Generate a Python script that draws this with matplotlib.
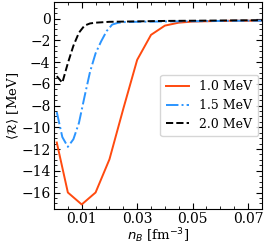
import matplotlib
matplotlib.use("Agg")
import matplotlib.pyplot as plt
from matplotlib.ticker import MultipleLocator

plt.rcParams["font.family"] = "DejaVu Serif"
plt.rcParams["mathtext.fontset"] = "dejavusans"

# ---------- data ----------
x_10 = [0.001, 0.005, 0.010, 0.015, 0.020, 0.025, 0.030, 0.035, 0.040,
        0.045, 0.050, 0.055, 0.060, 0.065, 0.070, 0.075]
y_10 = [-11.4, -16.0, -17.1, -16.0, -12.95, -8.3, -3.8, -1.5, -0.65,
        -0.38, -0.28, -0.25, -0.22, -0.2, -0.2, -0.2]

x_15 = [0.001, 0.003, 0.005, 0.007, 0.009, 0.011, 0.013, 0.015, 0.017,
        0.019, 0.021, 0.023, 0.025, 0.030, 0.040, 0.050, 0.060, 0.070, 0.075]
y_15 = [-8.6, -10.9, -11.8, -11.1, -9.6, -7.2, -4.9, -3.2, -2.1,
        -1.15, -0.55, -0.4, -0.33, -0.3, -0.27, -0.25, -0.22, -0.2, -0.2]

x_20 = [0.001, 0.003, 0.005, 0.007, 0.009, 0.011, 0.013, 0.015, 0.020,
        0.030, 0.040, 0.050, 0.060, 0.070, 0.075]
y_20 = [-5.3, -5.9, -4.1, -2.5, -1.3, -0.65, -0.45, -0.38, -0.3,
        -0.26, -0.22, -0.2, -0.18, -0.16, -0.15]

labels = ["1.0 MeV", "1.5 MeV", "2.0 MeV"]
colors = ["#ff4a0f", "#2b95ff", "black"]

# ---------- plot ----------
fig = plt.figure(figsize=(2.70, 2.48), dpi=100)
ax = fig.add_axes([0.2, 0.158, 0.77, 0.833])

ax.plot(x_10, y_10, color=colors[0], lw=1.4, ls="-", label=labels[0])
ax.plot(x_15, y_15, color=colors[1], lw=1.4, ls="-.", label=labels[1])
ax.plot(x_20, y_20, color=colors[2], lw=1.4, ls="--", label=labels[2])

ax.set_xlim(0, 0.075)
ax.set_ylim(-17.5, 1.5)
ax.set_xticks([0.01, 0.03, 0.05, 0.07])
ax.set_xticklabels(["0.01", "0.03", "0.05", "0.07"])
ax.set_yticks(range(-16, 1, 2))
ax.xaxis.set_minor_locator(MultipleLocator(0.005))
ax.yaxis.set_minor_locator(MultipleLocator(0.5))
ax.tick_params(which="both", direction="in", top=True, right=True, labelsize=10)
ax.tick_params(which="major", length=4, width=0.8, pad=2.5)
ax.tick_params(which="minor", length=2, width=0.6)

ax.set_xlabel(r"$n_B$ [fm$^{-3}$]", fontsize=9.5, labelpad=0)
ax.set_ylabel(r"$\langle\mathcal{R}\rangle$ [MeV]", fontsize=9.5, labelpad=0)

ax.legend(loc="center right", fontsize=9, handlelength=1.9,
          borderaxespad=0.3, labelspacing=0.45, borderpad=0.45)

fig.savefig("out.png", dpi=100)
